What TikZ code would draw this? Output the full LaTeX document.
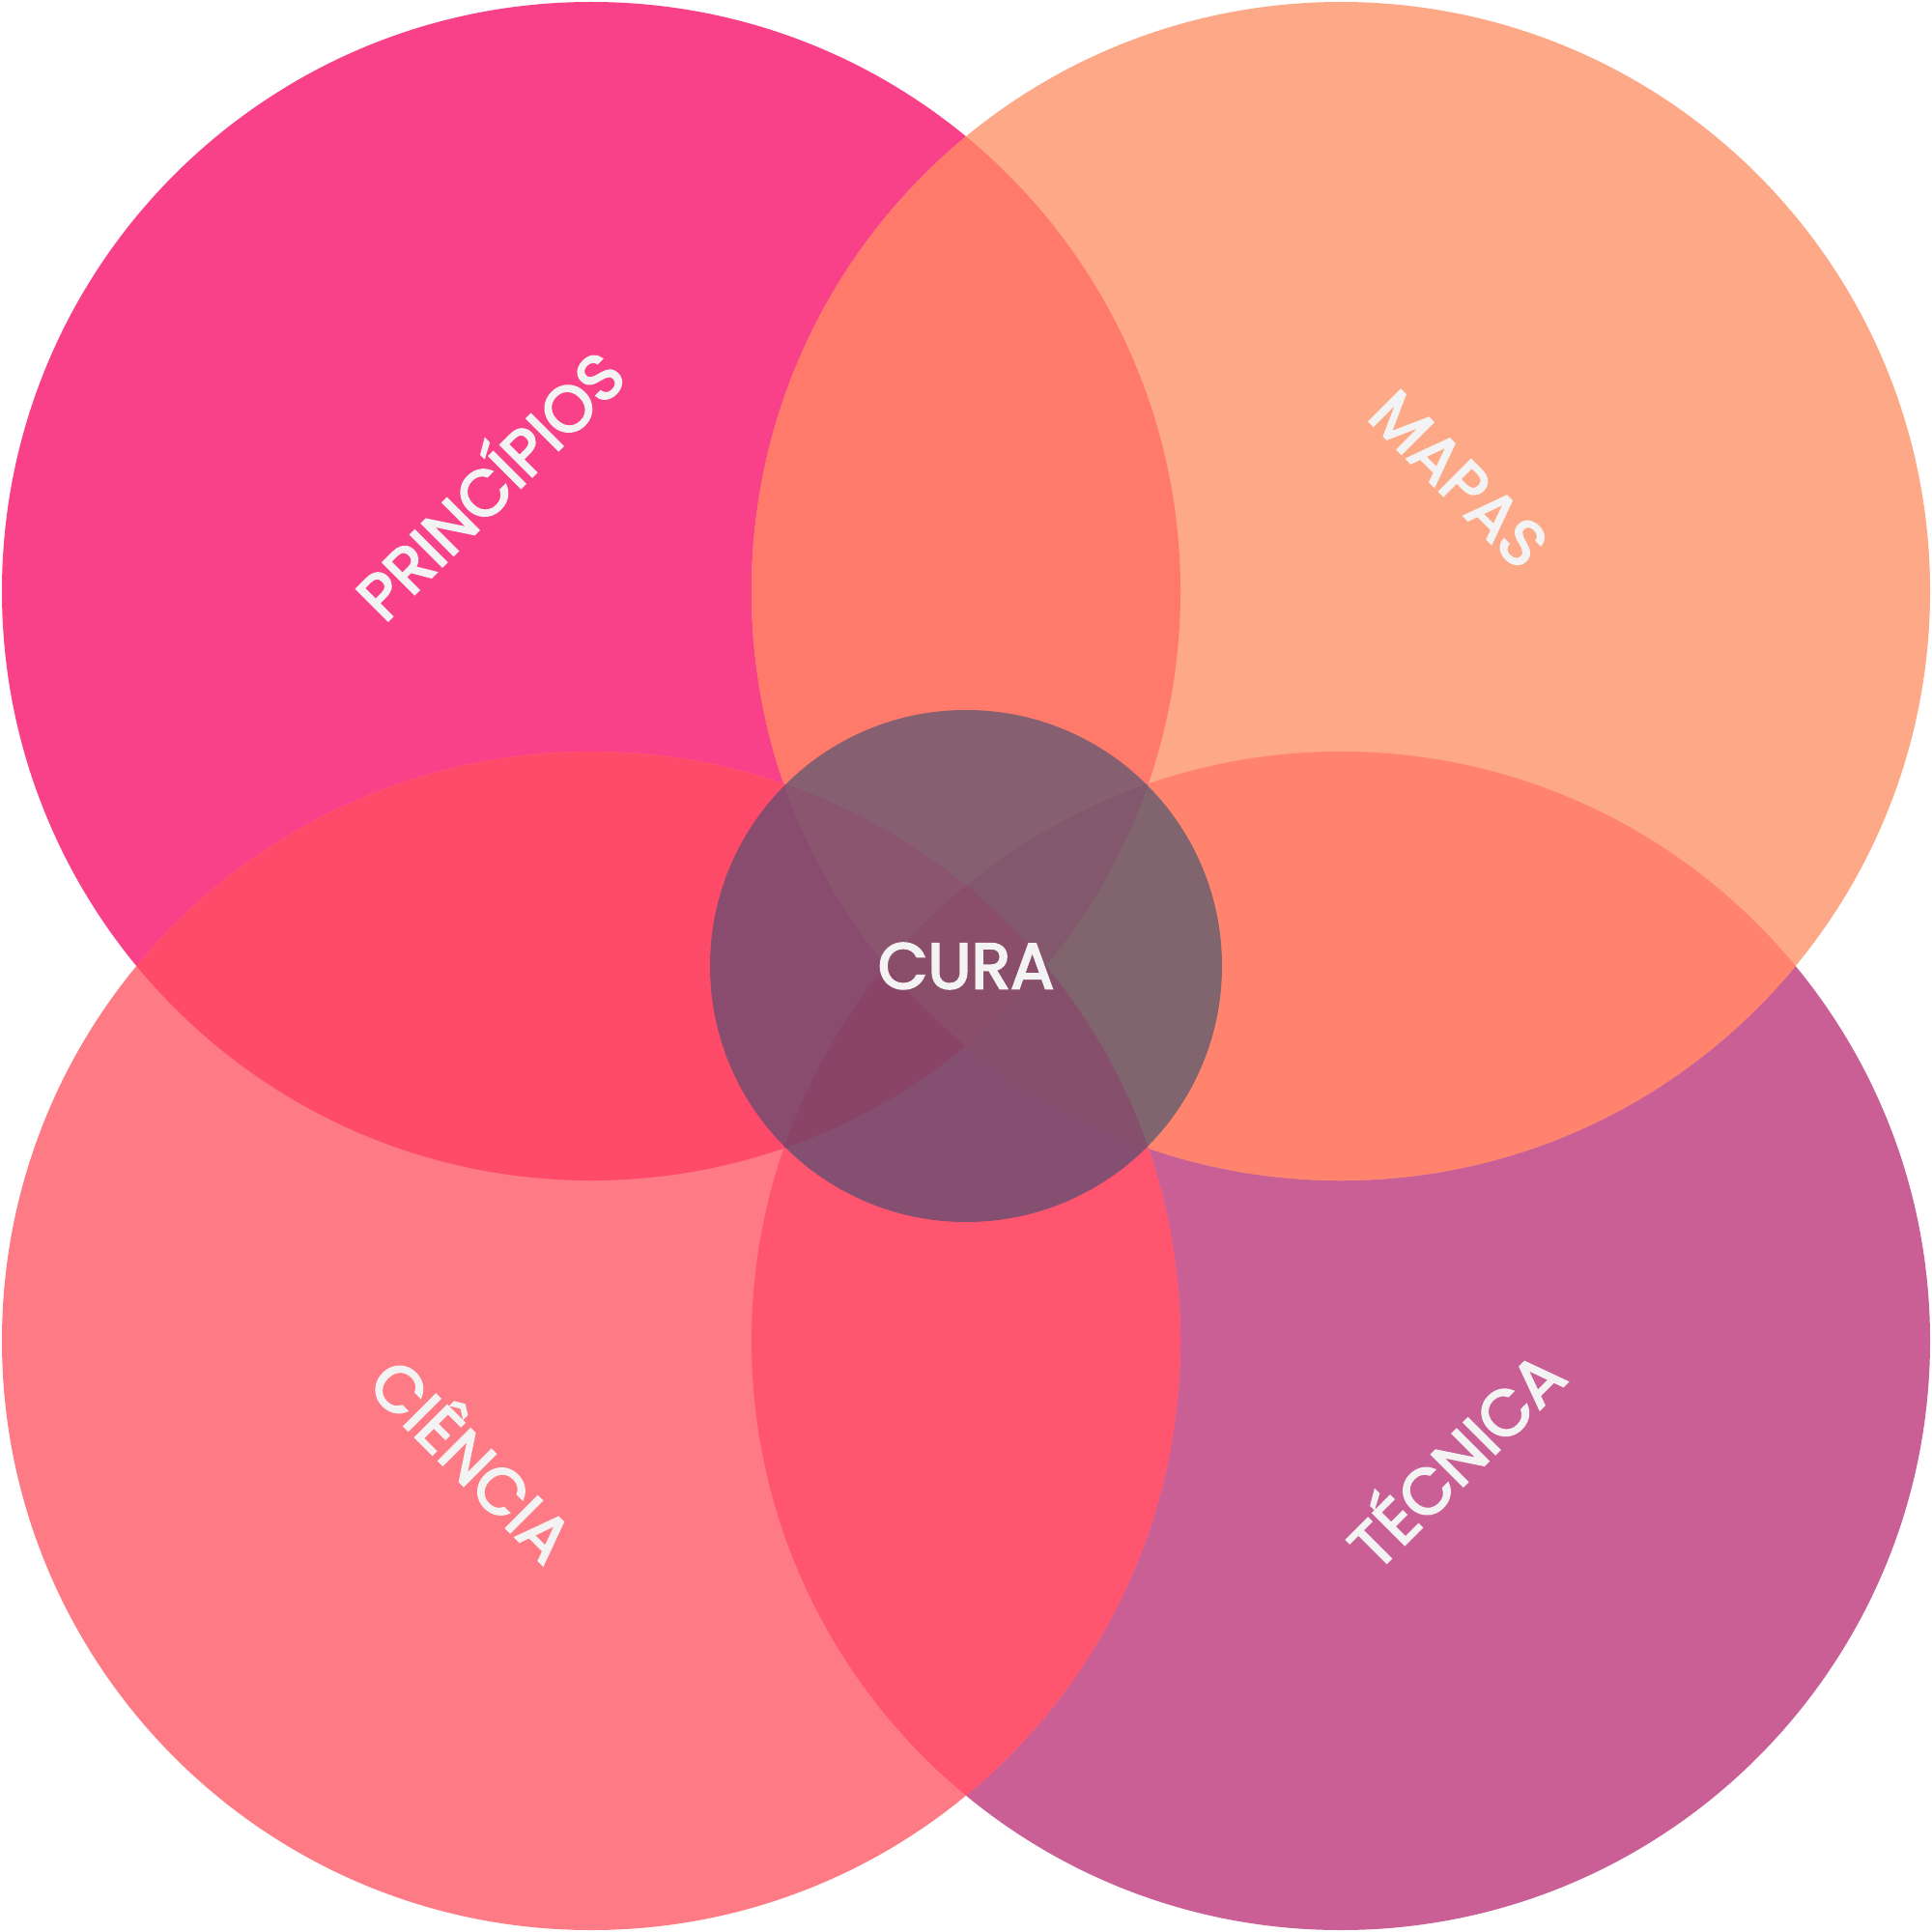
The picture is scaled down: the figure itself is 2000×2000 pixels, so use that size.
\documentclass[tikz,border=0pt]{standalone}
\usepackage{fontspec}
\setmainfont{Poppins}
\newfontfamily\lblfont{Poppins}[FakeBold=3]
\definecolor{cTL}{HTML}{F94189}
\definecolor{cTR}{HTML}{FDA886}
\definecolor{cBL}{HTML}{FE7B85}
\definecolor{cBR}{HTML}{CA5F96}
\definecolor{cTLTR}{HTML}{FF7A6A}
\definecolor{cTLBL}{HTML}{FF4B6A}
\definecolor{cTRBR}{HTML}{FF836D}
\definecolor{cBLBR}{HTML}{FF556F}
\definecolor{mA}{HTML}{866070}
\definecolor{mB}{HTML}{8A4C6E}
\definecolor{mC}{HTML}{80646E}
\definecolor{mD}{HTML}{844F70}
\definecolor{mE}{HTML}{8B5570}
\definecolor{mF}{HTML}{84586C}
\definecolor{mG}{HTML}{8A4468}
\definecolor{mH}{HTML}{86506C}
\definecolor{mI}{HTML}{8A4E6A}
\definecolor{txt}{HTML}{F4F3F4}
\def\pTL{(612,612) circle[radius=610]}
\def\pTR{(1388,612) circle[radius=610]}
\def\pBL{(612,1388) circle[radius=610]}
\def\pBR{(1388,1388) circle[radius=610]}
\def\pC{(1000,1000) circle[radius=265]}
\begin{document}
\begin{tikzpicture}[x=0.01cm,y=-0.01cm,
  lbl/.style={text=txt, font=\lblfont\fontsize{19}{22}\selectfont, inner sep=0pt}]
\useasboundingbox (0,0) rectangle (2000,2000);
\fill[white] (0,0) rectangle (2000,2000);
% single circles
\fill[cTL] \pTL;
\fill[cBR] \pBR;
\fill[cTR] \pTR;
\fill[cBL] \pBL;
% pairwise overlaps
\begin{scope}\clip \pTL; \fill[cTLTR] \pTR;\end{scope}
\begin{scope}\clip \pTL; \fill[cTLBL] \pBL;\end{scope}
\begin{scope}\clip \pBR; \fill[cTRBR] \pTR;\end{scope}
\begin{scope}\clip \pBR; \fill[cBLBR] \pBL;\end{scope}
% centre circle regions
\begin{scope}\clip \pC;
  \begin{scope}\clip \pTL; \fill[mA] \pTR;\end{scope}
  \begin{scope}\clip \pTL; \fill[mB] \pBL;\end{scope}
  \begin{scope}\clip \pBR; \fill[mC] \pTR;\end{scope}
  \begin{scope}\clip \pBR; \fill[mD] \pBL;\end{scope}
  \begin{scope}\clip \pTL; \clip \pTR; \fill[mE] \pBL;\end{scope}
  \begin{scope}\clip \pTL; \clip \pTR; \fill[mF] \pBR;\end{scope}
  \begin{scope}\clip \pTL; \clip \pBL; \fill[mG] \pBR;\end{scope}
  \begin{scope}\clip \pTR; \clip \pBL; \fill[mH] \pBR;\end{scope}
  \begin{scope}\clip \pTL; \clip \pTR; \clip \pBL; \fill[mI] \pBR;\end{scope}
\end{scope}
% labels
\node[lbl] (cura) at (1000,1000) {CURA};
\node[lbl, rotate=45] (principios) at (503,498) {PRINCÍPIOS};
\node[lbl, rotate=-45] (mapas) at (1510,496) {MAPAS};
\node[lbl, rotate=-45] (ciencia) at (492,1508) {CIÊNCIA};
\node[lbl, rotate=45] (tecnica) at (1503,1507) {TÉCNICA};
\end{tikzpicture}
\end{document}
